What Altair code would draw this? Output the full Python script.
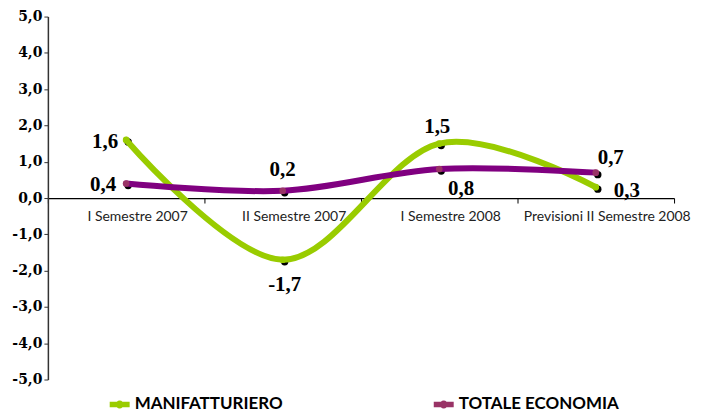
import altair as alt
import pandas as pd

CATEGORIES = ["I Semestre 2007", "II Semestre 2007", "I Semestre 2008", "Previsioni II Semestre 2008"]
SERIES = ["MANIFATTURIERO", "TOTALE ECONOMIA"]
MANIFATTURIERO = [1.6, -1.7, 1.5, 0.3]
TOTALE_ECONOMIA = [0.4, 0.2, 0.8, 0.7]
Y_TICKS = [-5, -4, -3, -2, -1, 0, 1, 2, 3, 4, 5]
COLORS = ["#99cc00", "#800080"]
DOT_COLORS = ["#99cc00", "#993366"]

rows = []
for s, vals in zip(SERIES, [MANIFATTURIERO, TOTALE_ECONOMIA]):
    for i, (c, v) in enumerate(zip(CATEGORIES, vals)):
        rows.append({"cat": c, "series": s, "value": v, "idx": i,
                     "label": f"{v:.1f}".replace(".", ",")})
df = pd.DataFrame(rows)

# label placement (styling): (dx, dy, align)
LABEL_STYLE = {
    ("MANIFATTURIERO", 0): (-8, 2, "right"),
    ("MANIFATTURIERO", 1): (2, 25, "center"),
    ("MANIFATTURIERO", 2): (-2, -17, "center"),
    ("MANIFATTURIERO", 3): (18, 4, "left"),
    ("TOTALE ECONOMIA", 0): (-10, 2, "right"),
    ("TOTALE ECONOMIA", 1): (0, -21, "center"),
    ("TOTALE ECONOMIA", 2): (22, 20, "center"),
    ("TOTALE ECONOMIA", 3): (15, -15, "center"),
}

x_enc = alt.X("cat:N", sort=CATEGORIES,
              scale=alt.Scale(paddingInner=0, paddingOuter=0),
              axis=alt.Axis(title=None, labelAngle=0, offset=-182, tickBand="extent",
                            domainColor="#000000", tickColor="#000000", tickSize=5,
                            labelPadding=7, labelOffset=11, labelFont="Lato", labelFontSize=14,
                            labelColor="#222222", domainWidth=1.2, labelLimit=300))
y_enc = alt.Y("value:Q", scale=alt.Scale(domain=[-5, 5], nice=False),
              axis=alt.Axis(title=None, values=Y_TICKS, grid=False,
                            labelExpr="replace(replace(format(datum.value, '.1f'), '.', ','), '\u2212', '-')",
                            labelFont="DejaVu Serif", labelFontWeight="bold", labelFontSize=14,
                            labelColor="#000000", domainColor="#333333", tickColor="#333333",
                            tickSize=4, labelPadding=2, domainWidth=1.5))

legend = alt.Legend(title=None, orient="none", legendX=62, legendY=379,
                    direction="horizontal", columns=2, columnPadding=151,
                    symbolType="M-1,-0.28H1V0.28H-1Z M-0.4,0A0.4,0.4 0 1,1 0.4,0A0.4,0.4 0 1,1 -0.4,0Z",
                    symbolSize=400, symbolStrokeWidth=0, symbolOpacity=1,
                    labelFont="Lato", labelFontSize=17, labelFontWeight="bold",
                    labelColor="#000000", labelOffset=5, labelLimit=300)
color_enc = alt.Color("series:N", scale=alt.Scale(domain=SERIES, range=COLORS), legend=legend)

base = alt.Chart(df)

shadow = base.mark_circle(size=55, color="#000000", opacity=1, xOffset=2, yOffset=2).encode(
    x=x_enc, y=y_enc)

lines = []
for s in SERIES:
    lines.append(base.transform_filter(alt.datum.series == s).mark_line(
        strokeWidth=6, interpolate="cardinal", strokeCap="round").encode(
        x=x_enc, y=y_enc, color=color_enc, order="idx:Q"))

dots = base.mark_circle(size=45, opacity=1).encode(
    x=x_enc, y=y_enc,
    color=color_enc,
    fill=alt.Fill("series:N", scale=alt.Scale(domain=SERIES, range=DOT_COLORS), legend=None))

texts = []
for (s, i), (dx, dy, al) in LABEL_STYLE.items():
    texts.append(base.transform_filter((alt.datum.series == s) & (alt.datum.idx == i)).mark_text(
        dx=dx, dy=dy, align=al, baseline="middle", font="Liberation Serif",
        fontWeight="bold", fontSize=21, color="#000000").encode(
        x=x_enc, y=y_enc, text="label:N"))

chart = alt.layer(shadow, *lines, dots, *texts).properties(
    width=628, height=364,
    autosize=alt.AutoSizeParams(type="none"),
    padding={"left": 40, "top": 8, "right": 20, "bottom": 34},
).configure_view(stroke=None)

chart.save("out.html", embed_options={"renderer": "svg", "actions": False})
